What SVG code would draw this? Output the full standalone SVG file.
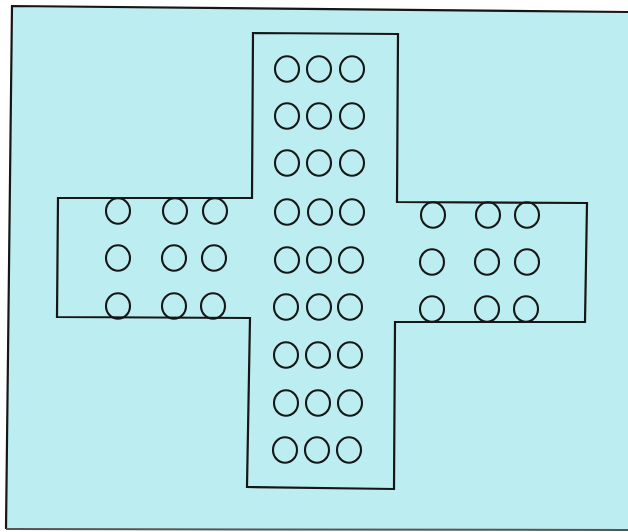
<svg xmlns="http://www.w3.org/2000/svg" width="628" height="532" viewBox="0 0 628 532">
<style>
.hole{fill:none;stroke:#161616;stroke-width:2.1}
.edge{fill:none;stroke:#161616;stroke-width:2.2}
</style>
<defs>
<ellipse id="h" class="hole" cx="0" cy="0" rx="12" ry="12.8"/>
</defs>
<rect width="628" height="532" fill="#ffffff"/>
<g id="board">
<polygon points="12,6 628,12 628,529 6,529" fill="#bcedf0"/>
<polyline class="edge" points="628,12 12,6 6,529"/>
<line x1="6" y1="529" x2="628" y2="530" stroke="#555" stroke-width="2"/>
</g>
<g id="cross">
<polygon class="edge" points="253,33 398,34 397,202 587,203 585,322 395,322 394,489 247,487 250,318 57,317 58,198 252,198"/>
</g>
<g id="center-holes">
<use href="#h" x="287" y="69"/><use href="#h" x="319" y="69"/><use href="#h" x="352" y="69"/>
<use href="#h" x="287" y="116"/><use href="#h" x="319" y="116"/><use href="#h" x="352" y="116"/>
<use href="#h" x="287" y="163"/><use href="#h" x="319" y="163"/><use href="#h" x="352" y="163"/>
<use href="#h" x="287" y="212"/><use href="#h" x="320" y="212"/><use href="#h" x="352" y="212"/>
<use href="#h" x="287" y="260"/><use href="#h" x="319" y="260"/><use href="#h" x="351" y="260"/>
<use href="#h" x="286" y="307"/><use href="#h" x="319" y="307"/><use href="#h" x="350" y="307"/>
<use href="#h" x="286" y="355"/><use href="#h" x="318" y="355"/><use href="#h" x="350" y="355"/>
<use href="#h" x="286" y="403"/><use href="#h" x="318" y="403"/><use href="#h" x="350" y="403"/>
<use href="#h" x="285" y="450"/><use href="#h" x="317" y="450"/><use href="#h" x="349" y="450"/>
</g>
<g id="left-holes">
<use href="#h" x="118" y="211"/><use href="#h" x="175" y="211"/><use href="#h" x="215" y="211"/>
<use href="#h" x="118" y="258"/><use href="#h" x="174" y="258"/><use href="#h" x="214" y="258"/>
<use href="#h" x="118" y="306"/><use href="#h" x="174" y="306"/><use href="#h" x="213" y="306"/>
</g>
<g id="right-holes">
<use href="#h" x="433" y="215"/><use href="#h" x="488" y="215"/><use href="#h" x="527" y="215"/>
<use href="#h" x="432" y="262"/><use href="#h" x="487" y="262"/><use href="#h" x="527" y="262"/>
<use href="#h" x="432" y="309"/><use href="#h" x="487" y="309"/><use href="#h" x="526" y="309"/>
</g>
</svg>
